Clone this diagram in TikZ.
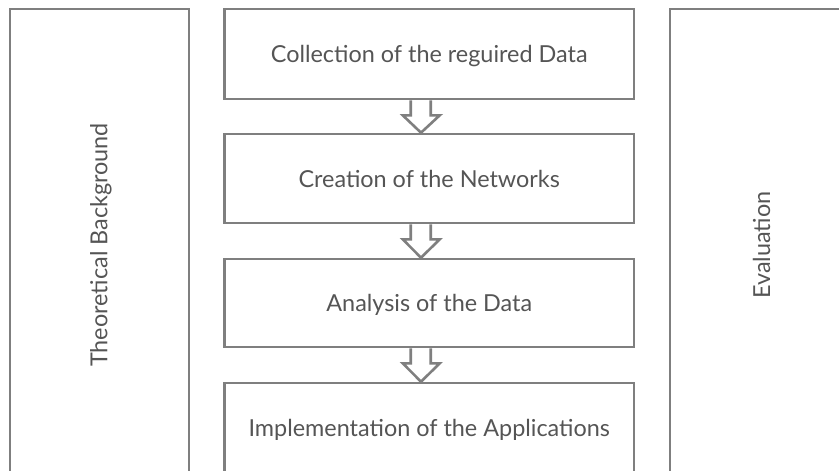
\documentclass[tikz,border=0pt]{standalone}
\usepackage{fontspec}
\setmainfont{Lato}
\usetikzlibrary{calc}
\definecolor{linegray}{HTML}{7F7F7F}
\definecolor{textgray}{HTML}{555555}
\tikzset{
  x=1pt,y=1pt,
  lbl/.style={text=textgray,font=\fontsize{23.4}{27}\selectfont},
  box/.style={draw=linegray,line width=2.6pt,rectangle,inner sep=0pt,lbl,text depth=0pt},
  hollow/.style={draw=linegray,line width=2.6pt,fill=white}
}
\begin{document}
\begin{tikzpicture}
\useasboundingbox (0,0) rectangle (839,-471);
\clip (0,0) rectangle (839,-471);
\fill[white] (0,0) rectangle (839,-471);
% side boxes
\node[box,minimum width=179,minimum height=472] (theo) at (99.5,-245) {};
\node[lbl,rotate=90] (theot) at ($(theo.center)+(1.5,0)$) {Theoretical Background};
\node[box,minimum width=180,minimum height=472] (eval) at (760,-245) {};
\node[lbl,rotate=90] (evalt) at ($(eval.center)+(1.5,0)$) {Evaluation};
% center boxes
\node[box,minimum width=409.5,minimum height=90] (b1) at (429.25,-54) {Collection of the reguired Data};
\node[box,minimum width=409.5,minimum height=89] (b2) at (429.25,-178.5) {Creation of the Networks};
\node[box,minimum width=409.5,minimum height=88] (b3) at (429.25,-303) {Analysis of the Data};
\node[box,minimum width=409.5,minimum height=89] (b4) at (429.25,-427.5) {Implementation of the Applications};
% hollow arrows
\foreach \a/\b in {b1/b2,b2/b3,b3/b4}{
  \draw[hollow] ($(\a.south)+(-18.5,0)$) -- ($(\a.south)+(-18.5,-15)$) -- ($(\a.south)+(-26.5,-15)$)
    -- ($(\b.north)+(-8.25,0)$) -- ($(\a.south)+(10.5,-15)$) -- ($(\a.south)+(1.5,-15)$) -- ($(\a.south)+(1.5,0)$);
}
\end{tikzpicture}
\end{document}
